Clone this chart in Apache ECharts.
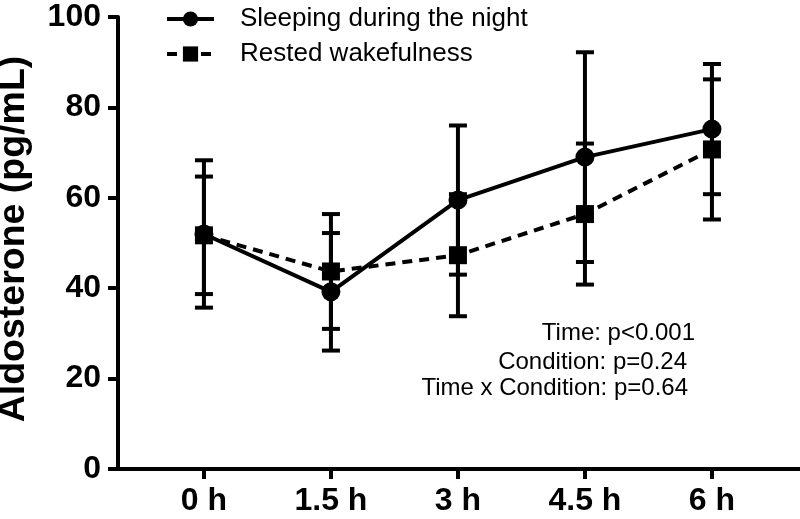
<!DOCTYPE html>
<html>
<head>
<meta charset="utf-8">
<script src="https://cdn.jsdelivr.net/npm/echarts@6.0.0/dist/echarts.min.js"></script>
<style>
  html, body { margin: 0; padding: 0; background: #fff; }
  #chart { width: 800px; height: 519px; }
</style>
</head>
<body>
<div id="chart"></div>
<script>
// time points (hours) and tick labels
const hours = [0, 1.5, 3, 4.5, 6];
const hourLabels = ['0 h', '1.5 h', '3 h', '4.5 h', '6 h'];

// aldosterone means and error (pg/mL)
const sleepMean = [52.0, 39.2, 59.5, 69.0, 75.2];
const sleepErr = [16.3, 13.0, 16.5, 23.2, 14.4];
const wakeMean = [51.7, 43.7, 47.3, 56.4, 70.7];
const wakeErr = [13.0, 12.7, 13.5, 15.6, 15.5];

const statLines = ['Time: p<0.001', 'Condition: p=0.24', 'Time x Condition: p=0.64'];

const FONT = 'Liberation Sans, Arial, sans-serif';

const chart = echarts.init(document.getElementById('chart'));

const toPoints = means => hours.map((h, i) => [h, means[i]]);
const toBars = (means, errs) => hours.map((h, i) => [h, means[i] - errs[i], means[i] + errs[i]]);

function renderErrorBar(params, api) {
  const x = api.value(0);
  const lo = api.coord([x, api.value(1)]);
  const hi = api.coord([x, api.value(2)]);
  const half = 9;
  const style = { stroke: '#000', lineWidth: 4 };
  return {
    type: 'group',
    children: [
      { type: 'line', shape: { x1: lo[0], y1: lo[1], x2: hi[0], y2: hi[1] }, style },
      { type: 'line', shape: { x1: hi[0] - half, y1: hi[1], x2: hi[0] + half, y2: hi[1] }, style },
      { type: 'line', shape: { x1: lo[0] - half, y1: lo[1], x2: lo[0] + half, y2: lo[1] }, style }
    ]
  };
}

const option = {
  animation: false,
  backgroundColor: '#fff',
  textStyle: { fontFamily: FONT, color: '#000' },
  grid: { left: 118, right: 0, top: 17, bottom: 50, containLabel: false, outerBoundsMode: 'none' },
  legend: {
    orient: 'vertical',
    left: 160,
    top: 1,
    itemWidth: 47,
    itemHeight: 19,
    itemGap: 9,
    data: ['Sleeping during the night', 'Rested wakefulness'],
    lineStyle: { width: 4 },
    textStyle: { fontSize: 26, color: '#000', fontFamily: FONT, padding: [0, 0, 0, 21], lineHeight: 26 }
  },
  xAxis: {
    type: 'value',
    min: -1.015,
    max: 7.04,
    splitLine: { show: false },
    axisLine: { onZero: false, lineStyle: { color: '#000', width: 4 } },
    axisTick: { customValues: hours, length: 10, lineStyle: { color: '#000', width: 4 } },
    axisLabel: {
      customValues: hours,
      formatter: v => hourLabels[hours.indexOf(v)],
      fontSize: 32,
      fontWeight: 'bold',
      color: '#000',
      fontFamily: FONT,
      margin: 16
    }
  },
  yAxis: {
    type: 'value',
    min: 0,
    max: 100,
    interval: 20,
    name: 'Aldosterone (pg/mL)',
    nameLocation: 'middle',
    nameGap: 85,
    nameTextStyle: { fontSize: 37.5, fontWeight: 'bold', color: '#000', fontFamily: FONT, padding: [0, 0, 0, 8] },
    splitLine: { show: false },
    axisLine: { show: true, onZero: false, lineStyle: { color: '#000', width: 4 } },
    axisTick: { show: true, length: 10, lineStyle: { color: '#000', width: 4 } },
    axisLabel: { fontSize: 32, fontWeight: 'bold', color: '#000', fontFamily: FONT, margin: 17 }
  },
  graphic: statLines.map((t, i) => ({
    type: 'text',
    right: [105, 113, 112][i],
    top: [321, 350, 376][i],
    style: { text: t, fontSize: 24, fontFamily: FONT, fill: '#000' }
  })),
  series: [
    {
      type: 'custom',
      name: 'sleepErr',
      renderItem: renderErrorBar,
      data: toBars(sleepMean, sleepErr),
      z: 1,
      silent: true
    },
    {
      type: 'custom',
      name: 'wakeErr',
      renderItem: renderErrorBar,
      data: toBars(wakeMean, wakeErr),
      z: 1,
      silent: true
    },
    {
      name: 'Sleeping during the night',
      type: 'line',
      data: toPoints(sleepMean),
      symbol: 'circle',
      symbolSize: 19,
      itemStyle: { color: '#000' },
      lineStyle: { color: '#000', width: 4 },
      z: 3
    },
    {
      name: 'Rested wakefulness',
      type: 'line',
      data: toPoints(wakeMean),
      symbol: 'rect',
      symbolSize: 18,
      itemStyle: { color: '#000' },
      lineStyle: { color: '#000', width: 4, type: [10, 7] },
      z: 2
    }
  ]
};

chart.setOption(option);
</script>
</body>
</html>
